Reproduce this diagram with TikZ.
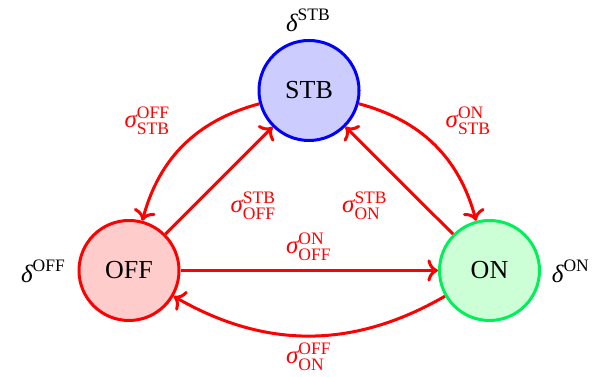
\documentclass[tikz,border=0pt]{standalone}
\usepackage{amsmath}
\usepackage{fontspec}
\setmainfont{Liberation Serif}
\usetikzlibrary{arrows.meta}
\definecolor{onGreen}{RGB}{0,240,90}
\definecolor{onFill}{RGB}{204,255,214}
\newcommand{\dl}[1]{$\textit{δ}^{\text{#1}}$}
\newcommand{\sg}[2]{$\textit{σ}^{\text{#1}}_{\text{#2}}$}
\begin{document}
\begin{tikzpicture}[x=0.4pt,y=0.4pt,
  state/.style={circle, minimum size=40pt, inner sep=0pt, line width=1.2pt, font=\fontsize{10.4}{12}\selectfont},
  trans/.style={draw=red, line width=1.2pt, -{To}},
  lbl/.style={text=red, inner sep=0pt},
  dlbl/.style={inner sep=0pt}]
\useasboundingbox (0,0) rectangle (597,377);

% states
\node[state, draw=blue, fill=blue!20] (stb) at (309,286.5) {STB};
\node[state, draw=red, fill=red!20] (off) at (129,106.5) {OFF};
\node[state, draw=onGreen, fill=onFill] (on) at (489.5,106.5) {ON};

% state labels
\node[dlbl] (dstb) at (308.5,357) {\dl{STB}};
\node[dlbl] (doff) at (43.5,106) {\dl{OFF}};
\node[dlbl] (don) at (571,106) {\dl{ON}};

% transitions
\draw[trans] (stb) to[bend right=30] (off);
\draw[trans] (off) -- (stb);
\draw[trans] (stb) to[bend left=30] (on);
\draw[trans] (on) -- (stb);
\draw[trans] (off) -- (on);
\draw[trans] (on) to[bend left=30] (off);

% transition labels
\node[lbl] (s1) at (147.5,256) {\sg{OFF}{STB}};
\node[lbl] (s2) at (253.5,171) {\sg{STB}{OFF}};
\node[lbl] (s3) at (468.5,256) {\sg{ON}{STB}};
\node[lbl] (s4) at (365,171) {\sg{STB}{ON}};
\node[lbl] (s5) at (309,130.5) {\sg{ON}{OFF}};
\node[lbl] (s6) at (309,20) {\sg{OFF}{ON}};
\end{tikzpicture}
\end{document}
